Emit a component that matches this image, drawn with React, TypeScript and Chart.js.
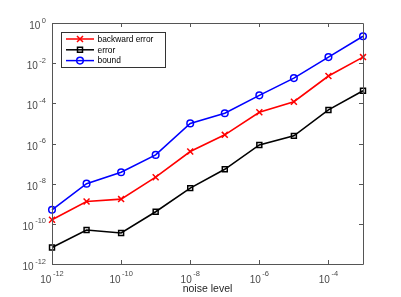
import React, { useEffect, useRef } from "react";
import { Chart, registerables } from "chart.js";

Chart.register(...registerables);

const noiseLevels = [1e-12, 1e-11, 1e-10, 1e-9, 1e-8, 1e-7, 1e-6, 1e-5, 1e-4, 1e-3];
const backwardError = [1.6e-10, 1.3e-9, 1.7e-9, 2.1e-8, 4.0e-7, 2.7e-6, 3.6e-5, 1.2e-4, 2.3e-3, 2.0e-2];
const errorValues = [6.6e-12, 4.9e-11, 3.5e-11, 4.0e-10, 6.0e-9, 5.2e-8, 8.5e-7, 2.4e-6, 4.7e-5, 4.2e-4];
const boundValues = [5.0e-10, 1.0e-8, 3.7e-8, 2.7e-7, 1.0e-5, 3.2e-5, 2.5e-4, 1.8e-3, 2.0e-2, 0.22];

const seriesNames = ["backward error", "error", "bound"];
const seriesColors = ["#ff0000", "#000000", "#0000ff"];
const seriesMarkers = ["crossRot", "rect", "circle"];

const xTickExps = [-12, -10, -8, -6, -4];
const yTickExps = [0, -2, -4, -6, -8, -10, -12];
const xTitle = "noise level";

const FONT = "'Liberation Sans', Arial, Helvetica, sans-serif";

function drawMarker(ctx: CanvasRenderingContext2D, style: string, x: number, y: number, color: string) {
  ctx.save();
  ctx.strokeStyle = color;
  ctx.lineWidth = 1.5;
  ctx.beginPath();
  if (style === "circle") {
    ctx.arc(x, y, 3.3, 0, Math.PI * 2);
  } else if (style === "rect") {
    ctx.rect(x - 2.5, y - 2.5, 5, 5);
  } else {
    ctx.moveTo(x - 3, y - 3);
    ctx.lineTo(x + 3, y + 3);
    ctx.moveTo(x + 3, y - 3);
    ctx.lineTo(x - 3, y + 3);
  }
  ctx.stroke();
  ctx.restore();
}

const axesPlugin = {
  id: "matlabAxes",
  afterDraw(chart: any) {
    const ctx: CanvasRenderingContext2D = chart.ctx;
    const { left, right, top, bottom } = chart.chartArea;
    const xs = chart.scales.x;
    const ys = chart.scales.y;
    ctx.save();
    ctx.strokeStyle = "#555555";
    ctx.lineWidth = 1;
    ctx.beginPath();
    ctx.rect(Math.round(left) + 0.5, Math.round(top) + 0.5, Math.round(right - left), Math.round(bottom - top));
    ctx.stroke();

    const tl = 4;
    ctx.beginPath();
    xTickExps.forEach((e) => {
      const px = Math.round(xs.getPixelForValue(Math.pow(10, e))) + 0.5;
      ctx.moveTo(px, bottom);
      ctx.lineTo(px, bottom - tl);
      ctx.moveTo(px, top);
      ctx.lineTo(px, top + tl);
    });
    yTickExps.forEach((e) => {
      const py = Math.round(ys.getPixelForValue(Math.pow(10, e))) + 0.5;
      ctx.moveTo(left, py);
      ctx.lineTo(left + tl, py);
      ctx.moveTo(right, py);
      ctx.lineTo(right - tl, py);
    });
    ctx.stroke();

    // tick labels
    ctx.fillStyle = "#4a4a4a";
    ctx.textBaseline = "alphabetic";
    const baseFont = `10px ${FONT}`;
    const expFont = `7.5px ${FONT}`;
    xTickExps.forEach((e) => {
      const px = xs.getPixelForValue(Math.pow(10, e));
      ctx.font = baseFont;
      const wb = ctx.measureText("10").width;
      ctx.font = expFont;
      const es = String(e);
      const we = ctx.measureText(es).width;
      const total = wb + 1.5 + we;
      const x0 = px - total / 2;
      ctx.font = baseFont;
      ctx.textAlign = "left";
      ctx.fillText("10", x0, bottom + 18.5);
      ctx.font = expFont;
      ctx.fillText(es, x0 + wb + 1.5, bottom + 12);
    });
    yTickExps.forEach((e) => {
      const py = ys.getPixelForValue(Math.pow(10, e));
      ctx.font = expFont;
      const es = String(e);
      const we = ctx.measureText(es).width;
      ctx.font = baseFont;
      const wb = ctx.measureText("10").width;
      const xEnd = left - 6;
      ctx.textAlign = "left";
      ctx.font = baseFont;
      ctx.fillText("10", xEnd - we - 1.5 - wb, py + 6);
      ctx.font = expFont;
      ctx.fillText(es, xEnd - we, py - 0.5);
    });

    // x title
    ctx.font = `10.5px ${FONT}`;
    ctx.fillStyle = "#262626";
    ctx.textAlign = "center";
    ctx.fillText(xTitle, (left + right) / 2, bottom + 28);

    // legend
    const lx = 61, ly = 32, lw = 104, lh = 35;
    ctx.fillStyle = "#ffffff";
    ctx.fillRect(lx, ly, lw, lh);
    ctx.strokeStyle = "#333333";
    ctx.lineWidth = 1;
    ctx.strokeRect(lx + 0.5, ly + 0.5, lw, lh);
    ctx.font = `8.4px ${FONT}`;
    ctx.textAlign = "left";
    ctx.textBaseline = "middle";
    seriesNames.forEach((name, i) => {
      const ry = ly + 7 + i * 10.8;
      ctx.strokeStyle = seriesColors[i];
      ctx.lineWidth = 1.5;
      ctx.beginPath();
      ctx.moveTo(66, ry);
      ctx.lineTo(94, ry);
      ctx.stroke();
      drawMarker(ctx, seriesMarkers[i], 80, ry, seriesColors[i]);
      ctx.fillStyle = "#000000";
      ctx.fillText(name, 97.5, ry + 0.5);
    });
    ctx.restore();
  },
};

export default function App() {
  const ref = useRef<HTMLCanvasElement | null>(null);
  useEffect(() => {
    document.body.style.margin = "0";
    const canvas = ref.current;
    if (!canvas) return;
    const seriesValues = [backwardError, errorValues, boundValues];
    const chart = new Chart(canvas, {
      type: "scatter",
      data: {
        datasets: seriesValues.map((vals, i) => ({
          label: seriesNames[i],
          data: noiseLevels.map((x, j) => ({ x, y: vals[j] })),
          showLine: true,
          borderColor: seriesColors[i],
          backgroundColor: "rgba(0,0,0,0)",
          borderWidth: 1.6,
          pointStyle: seriesMarkers[i] as any,
          pointRadius: seriesMarkers[i] === "circle" ? 3.3 : seriesMarkers[i] === "rect" ? 3.5 : 4.2,
          pointBorderWidth: 1.5,
          pointBorderColor: seriesColors[i],
          pointBackgroundColor: "rgba(0,0,0,0)",
          clip: false as any,
        })),
      },
      options: {
        animation: false,
        responsive: false,
        maintainAspectRatio: false,
        layout: { padding: { left: 52, right: 38, top: 23, bottom: 33 } },
        plugins: { legend: { display: false }, tooltip: { enabled: false } },
        scales: {
          x: { type: "logarithmic", min: 1e-12, max: 1e-3, display: false },
          y: { type: "logarithmic", min: 1e-12, max: 1, display: false },
        },
      },
      plugins: [axesPlugin],
    });
    return () => chart.destroy();
  }, []);
  return (
    <div style={{ position: "absolute", left: 0, top: 0, width: 401, height: 297, background: "#fff" }}>
      <canvas ref={ref} width={401} height={297} style={{ width: 401, height: 297 }} />
    </div>
  );
}
